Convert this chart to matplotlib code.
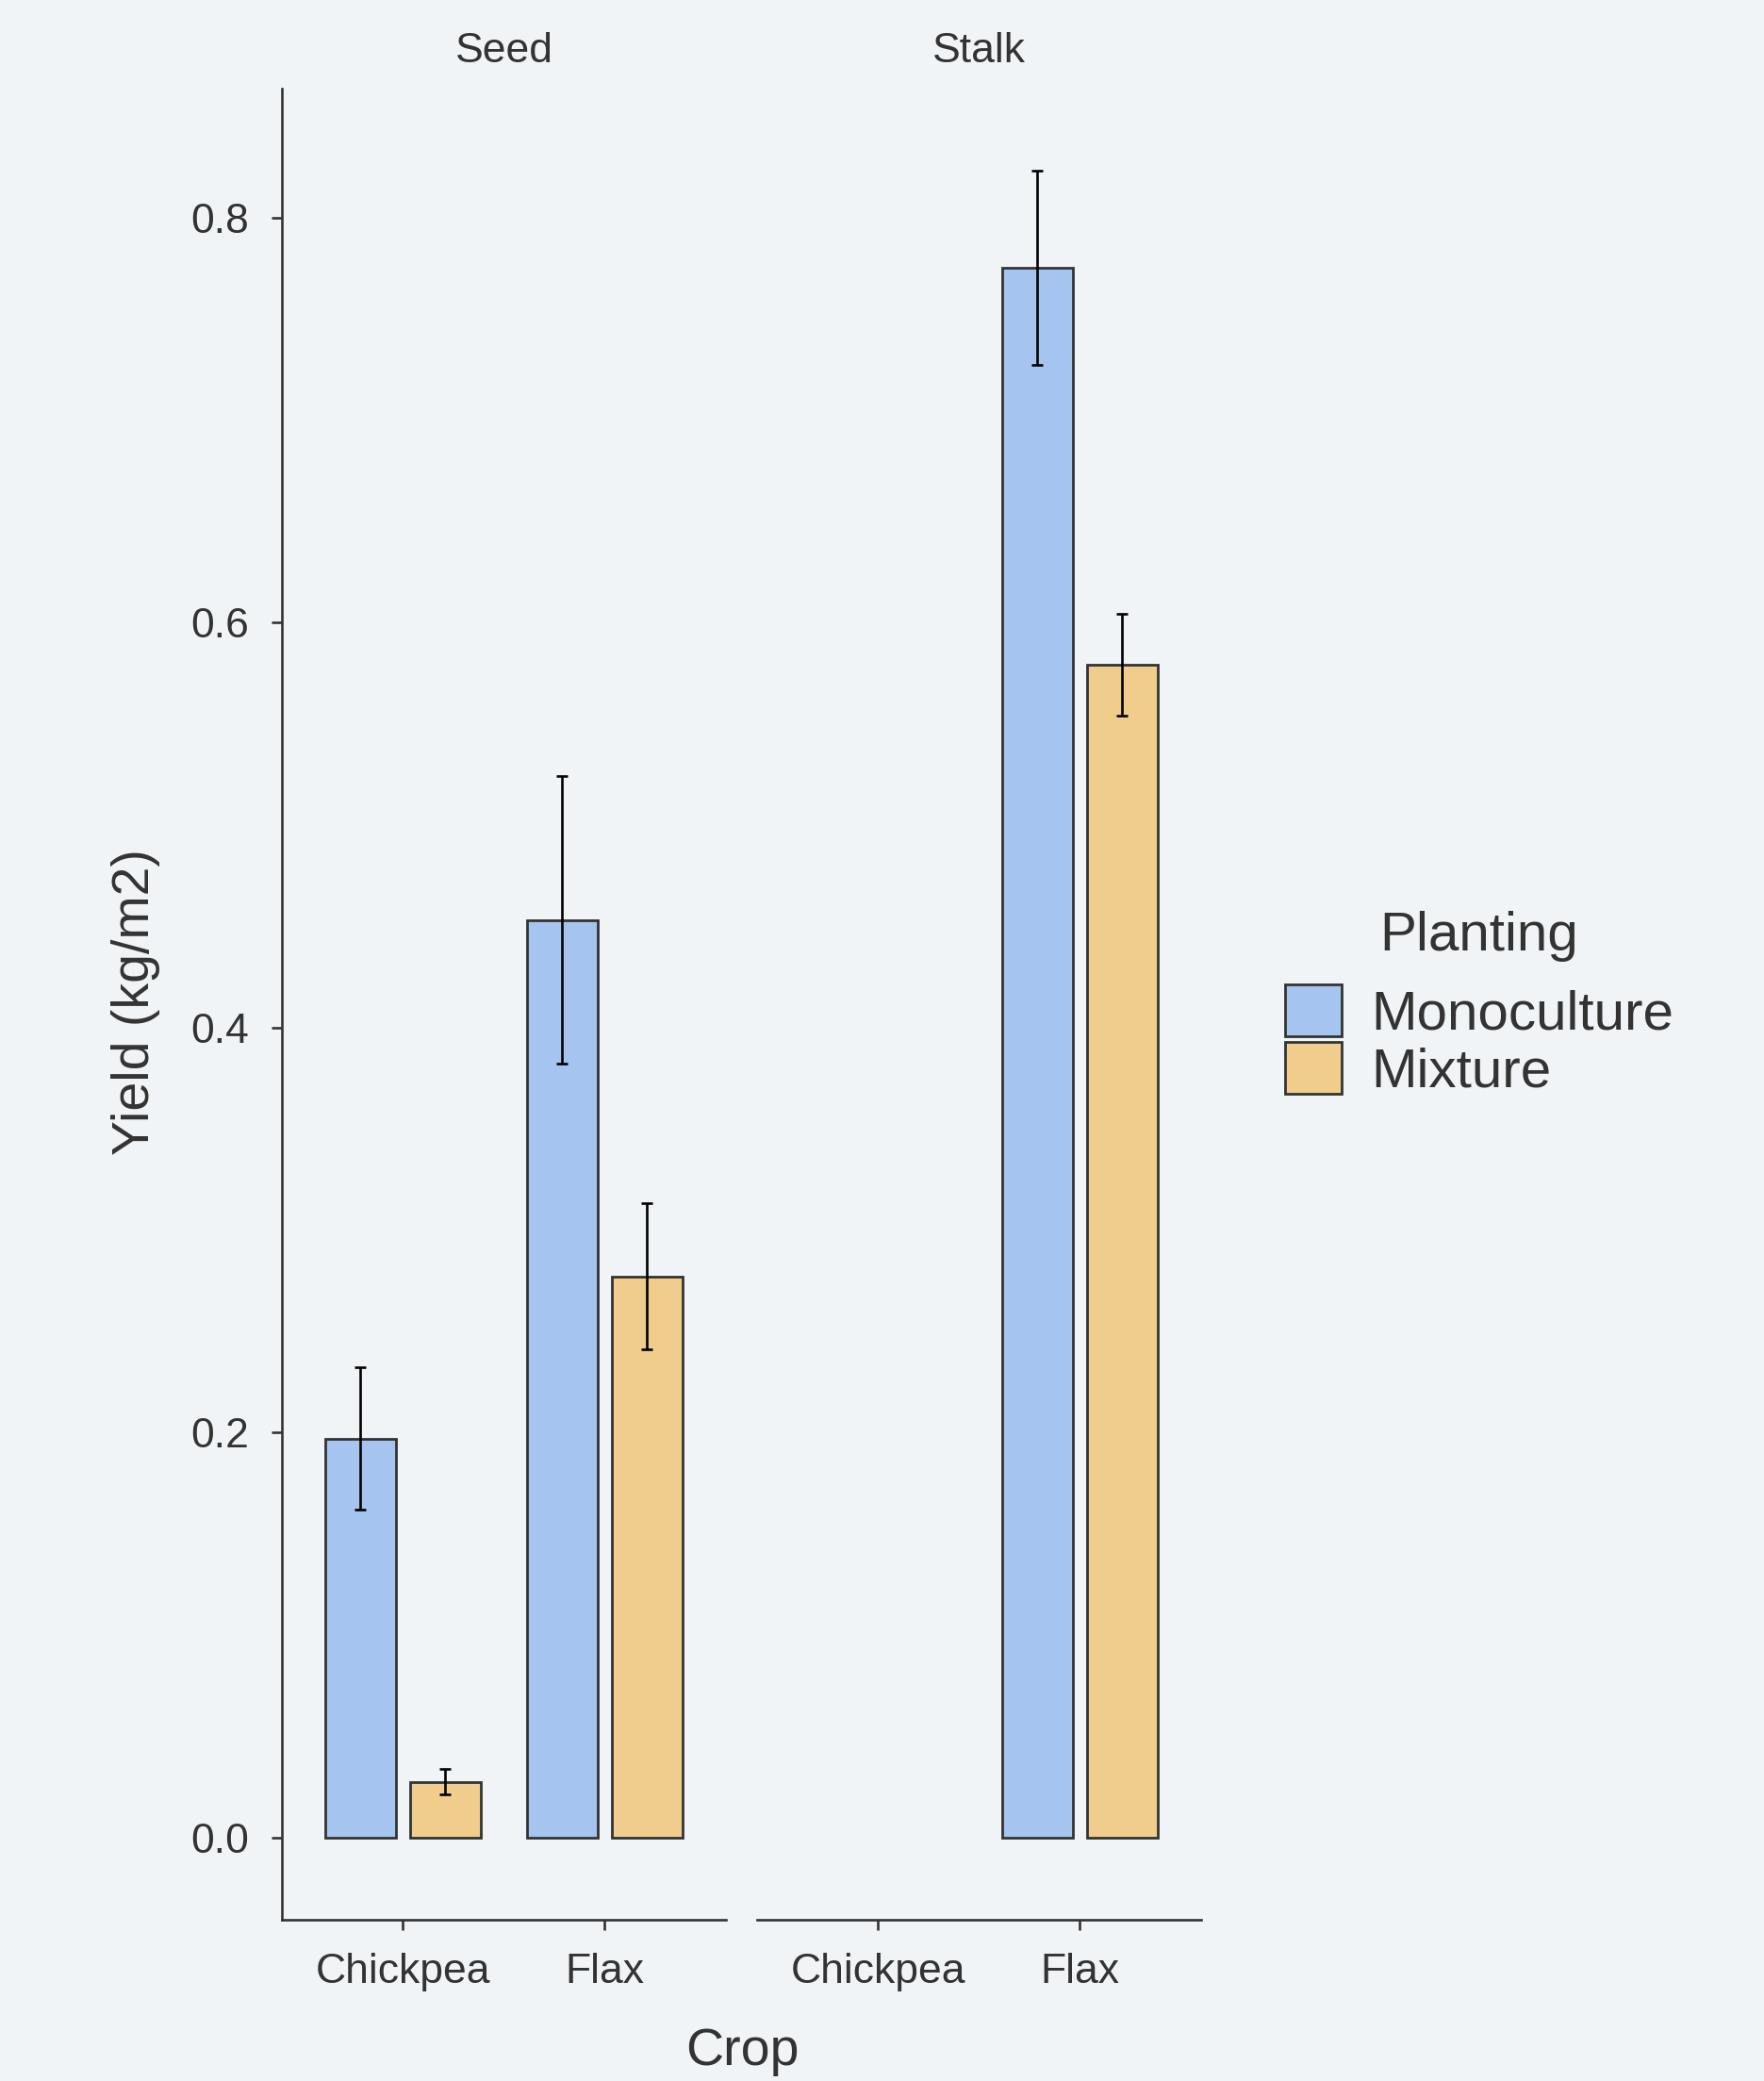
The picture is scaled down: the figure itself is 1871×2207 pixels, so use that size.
import numpy as np
import matplotlib
matplotlib.use('Agg')
import matplotlib.pyplot as plt
from matplotlib.patches import Patch

plt.rcParams['font.family'] = ['Liberation Sans', 'DejaVu Sans']

## data ##

crops = ['Chickpea', 'Flax']
facets = ['Seed', 'Stalk']
plantings = ['Monoculture', 'Mixture']

# mean yield (kg/m2) per facet, per planting, per crop
seed_mono = [0.197, 0.453]
seed_mix = [0.0275, 0.277]
stalk_mono = [np.nan, 0.775]
stalk_mix = [np.nan, 0.579]

# error bar half widths
seed_mono_err = [0.035, 0.071]
seed_mix_err = [0.0062, 0.036]
stalk_mono_err = [np.nan, 0.048]
stalk_mix_err = [np.nan, 0.025]

yticks = [0.0, 0.2, 0.4, 0.6, 0.8]

## style ##

bg = '#f1f4f6'
colors = {'Monoculture': '#a6c4f0', 'Mixture': '#f0cd8c'}
edge = '#333333'
axcol = '#333333'
txt = '#333333'

W, H = 1871, 2207
fig = plt.figure(figsize=(W / 100, H / 100), dpi=100, facecolor=bg)

bottom = 1 - 2036 / H
height = (2036 - 94) / H
ax1 = fig.add_axes([298.5 / W, bottom, 471.5 / W, height])
ax2 = fig.add_axes([802.5 / W, bottom, 471.5 / W, height])

panel_data = {
    'Seed': (seed_mono, seed_mix, seed_mono_err, seed_mix_err),
    'Stalk': (stalk_mono, stalk_mix, stalk_mono_err, stalk_mix_err),
}

x = np.arange(1, len(crops) + 1)
off = 0.21
bw = 0.35

for ax, facet in zip([ax1, ax2], facets):
    mono, mix, mono_e, mix_e = panel_data[facet]
    ax.set_facecolor(bg)
    for vals, errs, sign, name in [(mono, mono_e, -1, 'Monoculture'), (mix, mix_e, 1, 'Mixture')]:
        vals = np.array(vals, dtype=float)
        errs = np.array(errs, dtype=float)
        ok = ~np.isnan(vals)
        xs = (x + sign * off)[ok]
        ax.bar(xs, vals[ok], width=bw, color=colors[name],
               edgecolor=edge, linewidth=2, zorder=2)
        ax.errorbar(xs, vals[ok], yerr=errs[ok], fmt='none', ecolor='black',
                    elinewidth=1.9, capsize=4, capthick=1.9, zorder=3)
    ax.set_xlim(0.4, 2.6)
    ax.set_ylim(-0.0407, 0.8636)
    ax.set_xticks(x)
    ax.set_xticklabels(crops)
    ax.set_yticks(yticks)
    for s in ['top', 'right']:
        ax.spines[s].set_visible(False)
    ax.spines['bottom'].set_color(axcol)
    ax.spines['bottom'].set_linewidth(1.9)
    ax.tick_params(axis='x', length=8, width=1.9, color=axcol, pad=17,
                   labelsize=32, labelcolor=txt)

ax1.spines['left'].set_color(axcol)
ax1.spines['left'].set_linewidth(1.9)
ax1.tick_params(axis='y', length=8, width=1.9, color=axcol, pad=17,
                labelsize=32, labelcolor=txt)
ax1.set_yticklabels(['%.1f' % v for v in yticks])
ax2.spines['left'].set_visible(False)
ax2.tick_params(axis='y', left=False, labelleft=False)

# strip labels above the panels
fig.text(535 / W, 1 - 55 / H, 'Seed', ha='center', va='center', fontsize=32, color=txt)
fig.text(1038 / W, 1 - 55 / H, 'Stalk', ha='center', va='center', fontsize=32, color=txt)

fig.text(144 / W, 1 - 1063 / H, 'Yield (kg/m2)', rotation=90, ha='center',
         va='center', fontsize=40, color=txt)
fig.text(787 / W, 1 - 2176 / H, 'Crop', ha='center', va='center', fontsize=40, color=txt)

# legend (title drawn separately so the gap matches)
fig.text(1569 / W, 1 - 993 / H, 'Planting', ha='center', va='center', fontsize=42, color=txt)
handles = [Patch(facecolor=colors[p], edgecolor=edge, linewidth=2) for p in plantings]
leg = fig.legend(handles, plantings, loc='upper left',
                 bbox_to_anchor=(1363 / W, 1 - 1044 / H), frameon=False,
                 fontsize=42, handlelength=1.02, handleheight=1.08,
                 labelspacing=0.02, handletextpad=0.55,
                 borderpad=0, borderaxespad=0)
for t in leg.get_texts():
    t.set_color(txt)

fig.savefig('out.png', dpi=100, facecolor=bg)
